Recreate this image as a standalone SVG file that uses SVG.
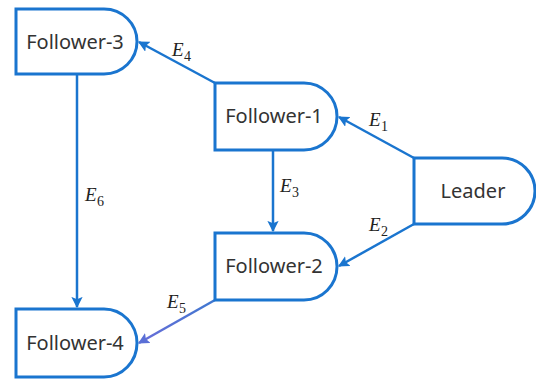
<svg xmlns="http://www.w3.org/2000/svg" width="536" height="381" viewBox="0 0 536 381">
<style>
.node{fill:#fff;stroke:#1A75CF;stroke-width:3}
.lbl{font-family:"Noto Sans","DejaVu Sans",sans-serif;font-size:20px;fill:#333;text-anchor:middle}
.e{font-family:"Liberation Serif",serif;font-style:italic;font-size:19px;fill:#222}
.s{font-family:"Liberation Serif",serif;font-size:14px;fill:#222}
.c{fill:none;stroke:#1A75CF;stroke-width:2.5}
</style>
<defs>
<marker id="ah" viewBox="0 0 10 10" refX="9" refY="5" markerWidth="4.5" markerHeight="4.5" orient="auto" markerUnits="strokeWidth">
<path d="M0,0 L10,5 L0,10 L2,5 Z" fill="#1A75CF"/>
</marker>
<marker id="ah2" viewBox="0 0 10 10" refX="9" refY="5" markerWidth="4.5" markerHeight="4.5" orient="auto" markerUnits="strokeWidth">
<path d="M0,0 L10,5 L0,10 L2,5 Z" fill="#5A6FD6"/>
</marker>
<linearGradient id="g5" x1="215" y1="300" x2="137" y2="343" gradientUnits="userSpaceOnUse">
<stop offset="0" stop-color="#3F78D0"/>
<stop offset="1" stop-color="#6A6CD8"/>
</linearGradient>
</defs>
<g id="connectors">
<line class="c" x1="215" y1="83" x2="139" y2="42" marker-end="url(#ah)"/>
<line class="c" x1="414" y1="158" x2="339" y2="117" marker-end="url(#ah)"/>
<line class="c" x1="414" y1="224" x2="339" y2="266" marker-end="url(#ah)"/>
<line class="c" x1="273" y1="150" x2="273" y2="231" marker-end="url(#ah)"/>
<line class="c" x1="77" y1="74" x2="77" y2="307" marker-end="url(#ah)"/>
<line class="c" x1="215" y1="300" x2="139" y2="343" style="stroke:url(#g5)" marker-end="url(#ah2)"/>
</g>
<g id="follower3">
<path class="node" d="M16,9 H104 A33,32.5 0 0 1 104,74 H16 Z"/>
<text class="lbl" x="75" y="49">Follower-3</text>
</g>
<g id="follower1">
<path class="node" d="M215,83 H304 A33,33.5 0 0 1 304,150 H215 Z"/>
<text class="lbl" x="274" y="123">Follower-1</text>
</g>
<g id="leader">
<path class="node" d="M414,158 H502 A33,33 0 0 1 502,224 H414 Z"/>
<text class="lbl" x="473" y="198">Leader</text>
</g>
<g id="follower2">
<path class="node" d="M215,233 H304 A33,33.5 0 0 1 304,300 H215 Z"/>
<text class="lbl" x="274" y="273">Follower-2</text>
</g>
<g id="follower4">
<path class="node" d="M16,309 H104 A33,34 0 0 1 104,377 H16 Z"/>
<text class="lbl" x="75" y="350">Follower-4</text>
</g>
<g id="labels">
<text class="e" x="172" y="56">E</text><text class="s" x="184" y="61">4</text>
<text class="e" x="369" y="126">E</text><text class="s" x="381" y="131">1</text>
<text class="e" x="280" y="192">E</text><text class="s" x="292" y="197">3</text>
<text class="e" x="369" y="231">E</text><text class="s" x="381" y="236">2</text>
<text class="e" x="167" y="308">E</text><text class="s" x="179" y="313">5</text>
<text class="e" x="85" y="201">E</text><text class="s" x="97" y="206">6</text>
</g>
</svg>
